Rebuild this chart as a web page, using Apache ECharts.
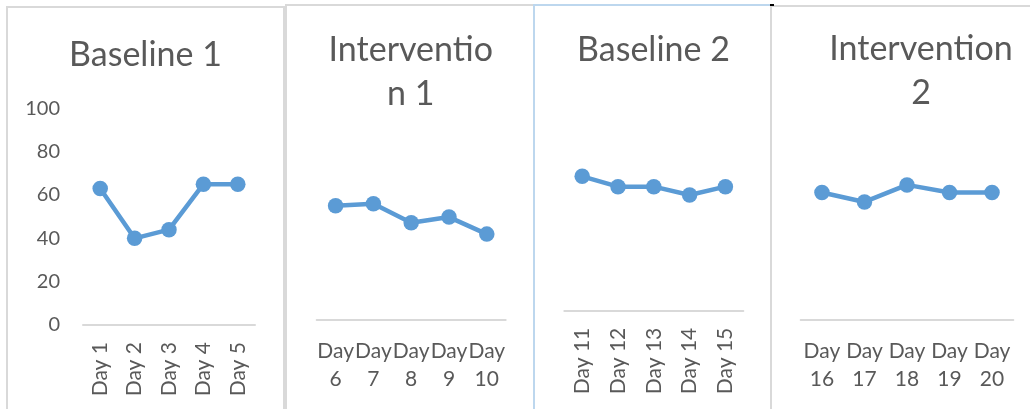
<!DOCTYPE html>
<html><head><meta charset="utf-8">
<script src="https://cdn.jsdelivr.net/npm/echarts@6/dist/echarts.min.js"></script>
<style>html,body{margin:0;padding:0;background:#fff}#c{width:1030px;height:409px}</style>
</head><body><div id="c"></div>
<script>
// ---- data ----
const titles = ['Baseline 1', 'Interventio\nn 1', 'Baseline 2', 'Intervention\n2'];
const days1 = ['Day 1', 'Day 2', 'Day 3', 'Day 4', 'Day 5'];
const days2 = ['Day 6', 'Day 7', 'Day 8', 'Day 9', 'Day 10'];
const days3 = ['Day 11', 'Day 12', 'Day 13', 'Day 14', 'Day 15'];
const days4 = ['Day 16', 'Day 17', 'Day 18', 'Day 19', 'Day 20'];
const values1 = [63, 40, 44, 65, 65];
const values2 = [60, 61, 51, 54, 45];
const values3 = [65, 60, 60, 56, 60];
const values4 = [67, 62, 71, 67, 67];
const yMin = 0, yMax = 100, yStep = 20;

// ---- layout / style ----
const FONT = 'Lato';
const TXT = '#595959';
const BLUE = '#5b9bd5';
const GRID_LINE = '#d9d9d9';

const panels = [
  { title: titles[0], cats: days1, vals: values1, tx: 145.5, ty: 33, grid: { left: 83, top: 108.3, width: 172, height: 216.7 }, rotate: 90, showY: true },
  { title: titles[1], cats: days2, vals: values2, tx: 410.8, ty: 28, grid: { left: 316.7, top: 130, width: 189, height: 189.3 }, rotate: 0, showY: false },
  { title: titles[2], cats: days3, vals: values3, tx: 653.5, ty: 28, grid: { left: 564.3, top: 104, width: 179, height: 206.7 }, rotate: 90, showY: false },
  { title: titles[3], cats: days4, vals: values4, tx: 921, ty: 27, grid: { left: 800.7, top: 130, width: 212.6, height: 189.3 }, rotate: 0, showY: false }
];

const option = {
  backgroundColor: '#ffffff',
  animation: false,
  title: panels.map(p => ({
    text: p.title, left: p.tx, top: p.ty, textAlign: 'center', textVerticalAlign: 'top', padding: 0,
    textStyle: { fontFamily: FONT, fontSize: 34, fontWeight: 'normal', color: TXT, lineHeight: 44 }
  })),
  grid: panels.map(p => Object.assign({ outerBoundsMode: 'none', containLabel: false }, p.grid)),
  xAxis: panels.map((p, i) => ({
    type: 'category', gridIndex: i, data: p.cats, boundaryGap: true,
    axisLine: { show: true, lineStyle: { color: GRID_LINE, width: 2 } },
    axisTick: { show: false },
    splitLine: { show: false },
    axisLabel: p.rotate ? {
      interval: 0, rotate: 90, margin: 17, fontFamily: FONT, fontSize: 21, color: TXT
    } : {
      interval: 0, margin: 17.5, fontFamily: FONT, fontSize: 21, color: TXT, lineHeight: 28,
      formatter: v => v.replace(' ', '\n')
    }
  })),
  yAxis: panels.map((p, i) => ({
    type: 'value', gridIndex: i, min: yMin, max: yMax, interval: yStep,
    axisLine: { show: false }, axisTick: { show: false }, splitLine: { show: false },
    axisLabel: { show: p.showY, margin: 23, fontFamily: FONT, fontSize: 20, color: TXT }
  })),
  series: panels.map((p, i) => ({
    type: 'line', xAxisIndex: i, yAxisIndex: i, data: p.vals,
    symbol: 'circle', symbolSize: 15.5, smooth: false,
    lineStyle: { color: BLUE, width: 4.5 },
    itemStyle: { color: BLUE },
    emphasis: { disabled: true }
  })),
  graphic: [
    { type: 'rect', silent: true, shape: { x: 7, y: 7, width: 277, height: 420 }, style: { fill: 'none', stroke: GRID_LINE, lineWidth: 2 } },
    { type: 'rect', silent: true, shape: { x: 286, y: 5, width: 248, height: 420 }, style: { fill: 'none', stroke: GRID_LINE, lineWidth: 2 } },
    { type: 'rect', silent: true, shape: { x: 534, y: 5, width: 237, height: 420 }, style: { fill: 'none', stroke: '#bdd7ee', lineWidth: 2 } },
    { type: 'rect', silent: true, shape: { x: 771, y: 6, width: 300, height: 420 }, style: { fill: 'none', stroke: GRID_LINE, lineWidth: 2 } },
    { type: 'line', silent: true, shape: { x1: 770, y1: 5, x2: 774, y2: 5 }, style: { stroke: '#000', lineWidth: 2 } }
  ]
};

const chart = echarts.init(document.getElementById('c'), null, { renderer: 'canvas' });
chart.setOption(option);
</script>
</body></html>
